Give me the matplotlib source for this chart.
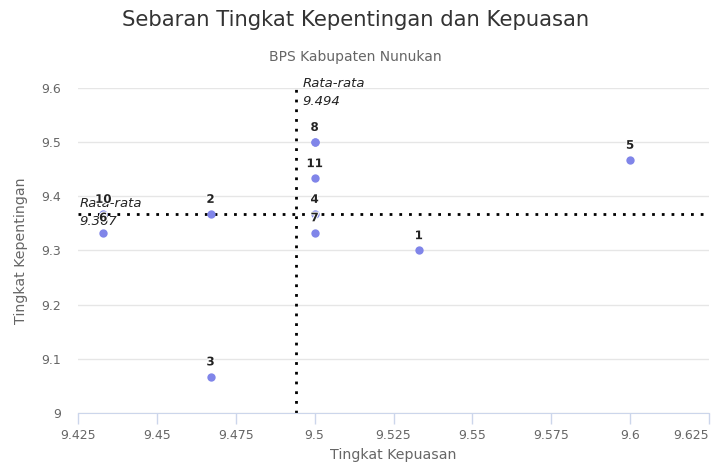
import matplotlib.pyplot as plt
import matplotlib.patheffects as pe

# Data
labels = ['1', '2', '3', '4', '5', '6', '7', '8', '9', '10', '11']
kepuasan = [9.533, 9.467, 9.467, 9.5, 9.6, 9.433, 9.5, 9.5, 9.5, 9.433, 9.5]
kepentingan = [9.3, 9.367, 9.067, 9.367, 9.467, 9.333, 9.333, 9.5, 9.5, 9.367, 9.433]
hidden_labels = ['9']  # overlaps with 8 in the original chart

x_ticks = [9.425, 9.45, 9.475, 9.5, 9.525, 9.55, 9.575, 9.6, 9.625]
x_tick_labels = ['9.425', '9.45', '9.475', '9.5', '9.525', '9.55', '9.575', '9.6', '9.625']
y_ticks = [9, 9.1, 9.2, 9.3, 9.4, 9.5, 9.6]
y_tick_labels = ['9', '9.1', '9.2', '9.3', '9.4', '9.5', '9.6']

mean_x = 9.494
mean_y = 9.367

fig = plt.figure(figsize=(7.11, 4.63), dpi=100)
ax = fig.add_axes([78 / 711, 1 - 413 / 463, (709 - 78) / 711, (413 - 88) / 463])

# Mean lines
dots = (0, (1, 2.5))
ax.axhline(mean_y, color='black', linestyle=dots, linewidth=2, zorder=2)
ax.axvline(mean_x, color='black', linestyle=dots, linewidth=2, zorder=2)
ax.text(mean_x + 0.0022, 9.591, 'Rata-rata\n' + str(mean_x), fontsize=9.5, style='italic',
        color='#222222', ha='left', va='center', linespacing=1.5)
ax.text(9.4255, 9.370, 'Rata-rata\n' + str(mean_y), fontsize=9.5, style='italic',
        color='#222222', ha='left', va='center', linespacing=1.5)

ax.scatter(kepuasan, kepentingan, s=36, color='#8085e9', zorder=3, linewidths=0)

outline = [pe.withStroke(linewidth=1.5, foreground='white')]
for lab, x, y in zip(labels, kepuasan, kepentingan):
    if lab in hidden_labels:
        continue
    ax.annotate(lab, (x, y), xytext=(0, 6), textcoords='offset points',
                ha='center', va='bottom', fontsize=8.5, fontweight='bold',
                color='#222222', zorder=4, path_effects=outline)

ax.set_xlim(9.425, 9.625)
ax.set_ylim(9, 9.6)
ax.set_xticks(x_ticks)
ax.set_xticklabels(x_tick_labels)
ax.set_yticks(y_ticks)
ax.set_yticklabels(y_tick_labels)
ax.get_xticklabels()[-1].set_horizontalalignment('right')
ax.tick_params(axis='x', colors='#666666', labelsize=9, length=8, width=1, color='#ccd6eb')
ax.tick_params(axis='y', colors='#666666', labelsize=9, length=0, pad=12)
ax.grid(axis='y', color='#e6e6e6', linewidth=1)
ax.set_axisbelow(True)
for side in ['top', 'right', 'left']:
    ax.spines[side].set_visible(False)
ax.spines['bottom'].set_color('#ccd6eb')

ax.set_xlabel('Tingkat Kepuasan', fontsize=10.2, color='#666666', labelpad=4)
ax.set_ylabel('Tingkat Kepentingan', fontsize=10.2, color='#666666', labelpad=10)

fig.text(0.5, 1 - 20 / 463, 'Sebaran Tingkat Kepentingan dan Kepuasan', ha='center', va='center',
         fontsize=15.2, color='#333333')
fig.text(0.5, 1 - 57 / 463, 'BPS Kabupaten Nunukan', ha='center', va='center',
         fontsize=10, color='#666666')

fig.savefig('out.png', dpi=100)
